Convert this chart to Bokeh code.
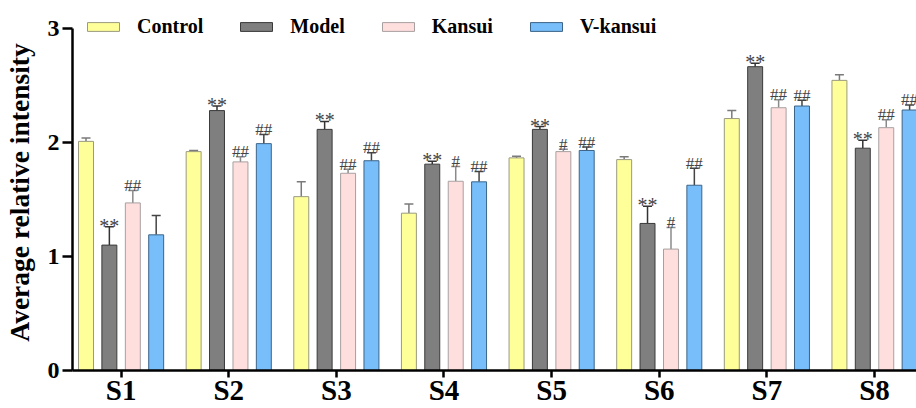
from bokeh.plotting import figure
from bokeh.models import (ColumnDataSource, Range1d, FixedTicker, Whisker, TeeHead,
                          Legend, LegendItem)
from bokeh.embed import file_html
from bokeh.resources import INLINE
from bokeh.core.properties import value

# ---------------- data ----------------
samples = ["S1", "S2", "S3", "S4", "S5", "S6", "S7", "S8"]
groups = ["Control", "Model", "Kansui", "V-kansui"]

control = [2.01, 1.92, 1.525, 1.38, 1.865, 1.85, 2.21, 2.545]
control_err = [0.03, 0.01, 0.13, 0.08, 0.015, 0.025, 0.07, 0.05]
model = [1.10, 2.28, 2.115, 1.81, 2.115, 1.29, 2.665, 1.95]
model_err = [0.16, 0.04, 0.07, 0.025, 0.025, 0.15, 0.03, 0.07]
kansui = [1.47, 1.83, 1.73, 1.66, 1.92, 1.065, 2.305, 2.13]
kansui_err = [0.11, 0.045, 0.035, 0.13, 0.02, 0.19, 0.07, 0.07]
vkansui = [1.19, 1.99, 1.84, 1.655, 1.93, 1.625, 2.32, 2.285]
vkansui_err = [0.17, 0.08, 0.07, 0.09, 0.03, 0.15, 0.05, 0.045]

model_marks = ["**", "**", "**", "**", "**", "**", "**", "**"]
kansui_marks = ["##", "##", "##", "#", "#", "#", "##", "##"]
vkansui_marks = ["", "##", "##", "##", "##", "##", "##", "##"]

y_ticks = [0, 1, 2, 3]

# ---------------- styles ----------------
fills = ["#FFFF99", "#7F7F7F", "#FFDEDE", "#78BEFA"]
edges = ["#9A9A80", "#3A3A3A", "#A8A0A0", "#3C6488"]
errc = ["#7A7A7A", "#333333", "#8A8A8A", "#444444"]
offsets = [-0.326, -0.109, 0.109, 0.326]
bar_w = 0.139
serif = "Liberation Serif"

values = [control, model, kansui, vkansui]
errors = [control_err, model_err, kansui_err, vkansui_err]
xpos = list(range(1, len(samples) + 1))

p = figure(width=916, height=408, output_backend="svg", toolbar_location=None,
           x_range=Range1d(0.5485, 8.39), y_range=Range1d(0, 3.1228),
           min_border_left=72, min_border_top=14, min_border_bottom=38,
           min_border_right=0)
p.outline_line_color = None
p.xgrid.visible = False
p.ygrid.visible = False
p.background_fill_color = "white"

renderers = []
for gi in range(4):
    xs = [x + offsets[gi] for x in xpos]
    tops = [v + e for v, e in zip(values[gi], errors[gi])]
    src = ColumnDataSource(dict(x=xs, top=values[gi], upper=tops))
    r = p.vbar(x="x", top="top", bottom=0, width=bar_w, source=src,
               fill_color=fills[gi], line_color=edges[gi], line_width=1)
    renderers.append(r)
    w = Whisker(base="x", lower="top", upper="upper", source=src,
                dimension="height", line_color=errc[gi], line_width=1.5,
                upper_head=TeeHead(size=9, line_color=errc[gi], line_width=1.5),
                lower_head=None, level="underlay")
    p.add_layout(w)

# significance marks
def add_marks(gi, marks, yoff, size):
    xs = [x + offsets[gi] for x in xpos]
    ys = [v + e for v, e in zip(values[gi], errors[gi])]
    src = ColumnDataSource(dict(x=xs, y=ys, t=marks))
    p.text(x="x", y="y", text="t", source=src, text_align="center",
           text_baseline="alphabetic", text_font=value(serif),
           text_font_size=size, text_color="#444444", y_offset=yoff)

add_marks(1, model_marks, -1, "20px")
add_marks(2, kansui_marks, -5, "17px")
add_marks(3, vkansui_marks, -5, "17px")

# axes
p.xaxis.ticker = FixedTicker(ticks=xpos)
p.xaxis.major_label_overrides = {x: s for x, s in zip(xpos, samples)}
p.yaxis.ticker = FixedTicker(ticks=y_ticks)
p.yaxis.bounds = (0, 3)
for ax in (p.xaxis, p.yaxis):
    ax.axis_line_width = 2.5
    ax.axis_line_color = "black"
    ax.major_tick_line_width = 2.5
    ax.major_tick_line_color = "black"
    ax.major_tick_in = 0
    ax.minor_tick_line_color = None
    ax.major_label_text_font = serif
    ax.major_label_text_font_style = "bold"
    ax.major_label_text_color = "black"

p.xaxis.major_tick_out = 7
p.yaxis.major_tick_out = 10
p.xaxis.major_label_text_font_size = "29px"
p.xaxis.major_label_standoff = -4
p.yaxis.major_label_text_font_size = "24px"
p.yaxis.major_label_standoff = 3
p.yaxis.axis_label = "Average relative intensity"
p.yaxis.axis_label_text_font = serif
p.yaxis.axis_label_text_font_style = "bold"
p.yaxis.axis_label_text_font_size = "27.5px"
p.yaxis.axis_label_text_color = "black"
p.yaxis.axis_label_standoff = 10

legend = Legend(items=[LegendItem(label=g, renderers=[r]) for g, r in zip(groups, renderers)],
                orientation="horizontal", location=(11, 332),
                glyph_width=40, glyph_height=11, label_height=20,
                label_standoff=14, spacing=33, padding=0, margin=0,
                border_line_color=None, background_fill_alpha=0,
                label_text_font=serif, label_text_font_style="bold",
                label_text_font_size="20px", label_text_color="black")
p.add_layout(legend)

open("out.html", "w").write(file_html(p, INLINE))
